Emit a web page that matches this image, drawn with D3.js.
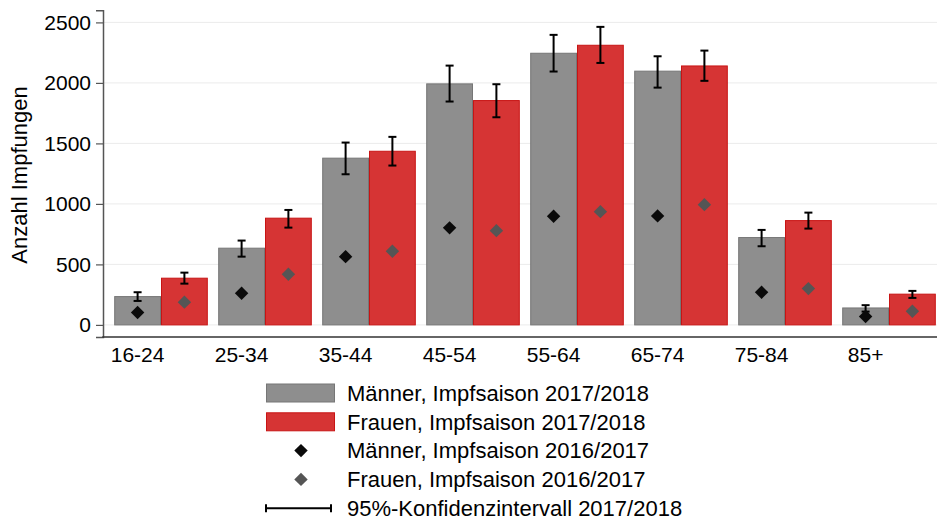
<!DOCTYPE html>
<html>
<head>
<meta charset="utf-8">
<script src="https://cdn.jsdelivr.net/npm/d3@7"></script>
<style>
  body { margin: 0; background: #fff; }
  svg { display: block; font-family: "Liberation Sans", Arial, sans-serif; }
</style>
</head>
<body>
<svg width="937" height="520"></svg>
<script>
// age groups and values (Anzahl Impfungen)
var ageGroups = ["16-24", "25-34", "35-44", "45-54", "55-64", "65-74", "75-84", "85+"];
var men1718 = [234, 634, 1378, 1992, 2245, 2097, 722, 140];
var women1718 = [386, 882, 1435, 1854, 2311, 2140, 862, 254];
var menLow = [198, 564, 1245, 1846, 2094, 1961, 650, 110];
var menHigh = [270, 697, 1507, 2143, 2397, 2220, 785, 163];
var womenLow = [341, 804, 1317, 1716, 2165, 2017, 796, 223];
var womenHigh = [432, 950, 1554, 1989, 2463, 2267, 928, 281];
var men1617 = [102, 262, 564, 802, 898, 901, 270, 69];
var women1617 = [188, 419, 609, 779, 936, 994, 300, 113];
var yTicks = [0, 500, 1000, 1500, 2000, 2500];

var legendItems = [
  {type: "bar", label: "Männer, Impfsaison 2017/2018", fill: "#8e8e8e", stroke: "#767676"},
  {type: "bar", label: "Frauen, Impfsaison 2017/2018", fill: "#d63434", stroke: "#c81414"},
  {type: "dot", label: "Männer, Impfsaison 2016/2017", fill: "#0a0a0a"},
  {type: "dot", label: "Frauen, Impfsaison 2016/2017", fill: "#555555"},
  {type: "ci", label: "95%-Konfidenzintervall 2017/2018"}
];

var svg = d3.select("svg"),
  axisLeftX = 103,
  fontSize = 21,
  legendFont = 22;

var x0 = d3.scaleBand()
  .domain(ageGroups)
  .range([109, 941])
  .paddingInner(0.1)
  .paddingOuter(0.05);

var x1 = d3.scaleBand()
  .domain(["m", "w"])
  .range([0, x0.bandwidth()]);

var y = d3.scaleLinear().domain([-100, 2600]).range([337, 10.3]);

var series = [
  {key: "m", values: men1718, low: menLow, high: menHigh, old: men1617, fill: "#8e8e8e", stroke: "#767676", dot: "#0a0a0a"},
  {key: "w", values: women1718, low: womenLow, high: womenHigh, old: women1617, fill: "#d63434", stroke: "#c81414", dot: "#555555"}
];

// gridlines
svg.append("g")
  .selectAll("line")
  .data(yTicks)
  .enter().append("line")
    .attr("x1", axisLeftX)
    .attr("x2", 937)
    .attr("y1", d => y(d))
    .attr("y2", d => y(d))
    .attr("stroke", "#ebebeb")
    .attr("stroke-width", 1);

// bars
series.forEach(s => {
  svg.append("g")
    .selectAll("rect")
    .data(ageGroups)
    .enter().append("rect")
      .attr("x", (d, i) => x0(d) + x1(s.key) + 0.5)
      .attr("y", (d, i) => y(s.values[i]))
      .attr("width", x1.bandwidth() - 1)
      .attr("height", (d, i) => y(0) - y(s.values[i]))
      .attr("fill", s.fill)
      .attr("stroke", s.stroke)
      .attr("stroke-width", 1);
});

// error bars
series.forEach(s => {
  var eb = svg.append("g")
    .selectAll("g")
    .data(ageGroups)
    .enter().append("g")
      .attr("transform", d => "translate(" + (x0(d) + x1(s.key) + x1.bandwidth() / 2) + ",0)")
      .attr("stroke", "#000")
      .attr("stroke-width", 2);
  eb.append("line")
    .attr("y1", (d, i) => y(s.low[i]))
    .attr("y2", (d, i) => y(s.high[i]));
  eb.append("line")
    .attr("x1", -4).attr("x2", 4)
    .attr("y1", (d, i) => y(s.low[i]))
    .attr("y2", (d, i) => y(s.low[i]));
  eb.append("line")
    .attr("x1", -4).attr("x2", 4)
    .attr("y1", (d, i) => y(s.high[i]))
    .attr("y2", (d, i) => y(s.high[i]));
});

// 2016/2017 diamonds
var diamond = d3.symbol().type(d3.symbolSquare).size(90);
series.forEach(s => {
  svg.append("g")
    .selectAll("path")
    .data(ageGroups)
    .enter().append("path")
      .attr("d", diamond)
      .attr("transform", (d, i) => "translate(" + (x0(d) + x1(s.key) + x1.bandwidth() / 2) + "," + y(s.old[i]) + ") rotate(45)")
      .attr("fill", s.dot);
});

// y axis
var yAxis = svg.append("g")
  .attr("transform", "translate(" + axisLeftX + ",0)")
  .call(d3.axisLeft(y).tickValues(yTicks).tickFormat(d3.format("d")).tickSize(7).tickPadding(5));
yAxis.select(".domain").attr("stroke", "#555").attr("stroke-width", 1.5);
yAxis.selectAll(".tick line").attr("stroke", "#555").attr("stroke-width", 1.2);
yAxis.selectAll(".tick text")
  .attr("fill", "#000")
  .style("font-size", fontSize + "px")
  .style("font-family", "Liberation Sans, Arial, sans-serif");

// x axis
svg.append("line")
  .attr("x1", axisLeftX - 0.75)
  .attr("x2", 937)
  .attr("y1", y(-100))
  .attr("y2", y(-100))
  .attr("stroke", "#333")
  .attr("stroke-width", 1.5);

svg.append("g")
  .selectAll("text")
  .data(ageGroups)
  .enter().append("text")
    .attr("x", d => x0(d) + x1("m") + x1.bandwidth() / 2)
    .attr("y", 362)
    .attr("text-anchor", "middle")
    .style("font-size", fontSize + "px")
    .text(d => d);

// y axis title
svg.append("text")
  .attr("transform", "translate(27,175) rotate(-90)")
  .attr("text-anchor", "middle")
  .style("font-size", legendFont + "px")
  .text("Anzahl Impfungen");

// legend
var legend = svg.append("g")
  .selectAll("g")
  .data(legendItems)
  .enter().append("g")
    .attr("transform", (d, i) => "translate(0," + (393 + i * 28.8) + ")");

legend.filter(d => d.type === "bar").append("rect")
  .attr("x", 266.5).attr("y", -9)
  .attr("width", 68).attr("height", 18)
  .attr("fill", d => d.fill)
  .attr("stroke", d => d.stroke);

legend.filter(d => d.type === "dot").append("path")
  .attr("d", diamond)
  .attr("transform", "translate(301,0) rotate(45)")
  .attr("fill", d => d.fill);

var ci = legend.filter(d => d.type === "ci").append("g")
  .attr("stroke", "#000").attr("stroke-width", 2);
ci.append("line").attr("x1", 266).attr("x2", 331);
ci.append("line").attr("x1", 266).attr("x2", 266).attr("y1", -4).attr("y2", 4);
ci.append("line").attr("x1", 331).attr("x2", 331).attr("y1", -4).attr("y2", 4);

legend.append("text")
  .attr("x", 347)
  .attr("dy", "0.35em")
  .style("font-size", legendFont + "px")
  .text(d => d.label);
</script>
</body>
</html>
